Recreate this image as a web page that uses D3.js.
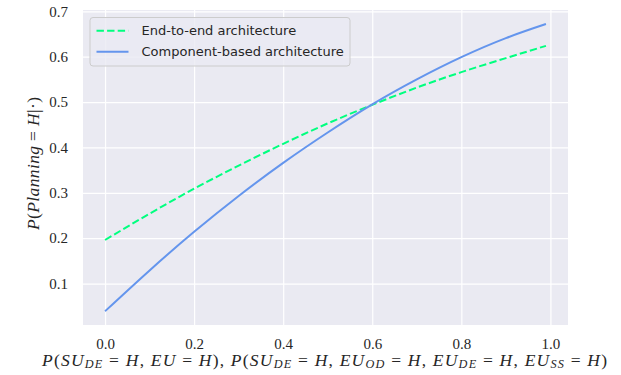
<!DOCTYPE html>
<html><head><meta charset="utf-8">
<script src="https://cdn.jsdelivr.net/npm/d3@7"></script>
<style>body{margin:0;background:#fff;}svg{display:block;}</style>
</head><body>
<svg id="c" width="621" height="375"></svg>
<script>
const xValues = [0.0, 0.1, 0.2, 0.3, 0.4, 0.5, 0.6, 0.7, 0.8, 0.9, 0.99];
const endToEnd = [0.196, 0.254, 0.309, 0.360, 0.408, 0.453, 0.494, 0.532, 0.566, 0.597, 0.624];
const componentBased = [0.039, 0.129, 0.214, 0.293, 0.366, 0.433, 0.495, 0.550, 0.599, 0.641, 0.672];
const seriesNames = ["End-to-end architecture", "Component-based architecture"];
const xTicks = [0.0, 0.2, 0.4, 0.6, 0.8, 1.0];
const yTicks = [0.1, 0.2, 0.3, 0.4, 0.5, 0.6, 0.7];

const svg = d3.select("#c");
const L = 83, R = 568, T = 10, B = 325;
const x = d3.scaleLinear().domain([-0.0495, 1.0395]).range([L, R]);
const y = d3.scaleLinear().domain([0.0086, 0.703]).range([B, T]);

svg.append("rect").attr("x", L).attr("y", T).attr("width", R - L).attr("height", B - T).attr("fill", "#EAEAF2");

const gx = svg.append("g").attr("transform", `translate(0,${B})`)
  .call(d3.axisBottom(x).tickValues(xTicks).tickFormat(d3.format(".1f")).tickSize(-(B - T)).tickPadding(13));
const gy = svg.append("g").attr("transform", `translate(${L},0)`)
  .call(d3.axisLeft(y).tickValues(yTicks).tickFormat(d3.format(".1f")).tickSize(-(R - L)).tickPadding(15));
[gx, gy].forEach(g => {
  g.select(".domain").remove();
  g.selectAll(".tick line").attr("stroke", "#fff").attr("stroke-width", 1.2);
  g.selectAll(".tick text").attr("fill", "#262626").attr("font-family", "Liberation Serif, serif").attr("font-size", 15);
});

const line = d3.line().x((d, i) => x(xValues[i])).y(d => y(d)).curve(d3.curveNatural);
svg.append("path").datum(endToEnd).attr("d", line).attr("fill", "none")
  .attr("stroke", "#00FF7F").attr("stroke-width", 2).attr("stroke-dasharray", "7.4,3.2");
svg.append("path").datum(componentBased).attr("d", line).attr("fill", "none")
  .attr("stroke", "#6495ED").attr("stroke-width", 2);

// legend
const lg = svg.append("g");
lg.append("rect").attr("x", 90).attr("y", 17.5).attr("width", 260).attr("height", 48.5).attr("rx", 3)
  .attr("fill", "#EAEAF2").attr("fill-opacity", 0.8).attr("stroke", "#cccccc").attr("stroke-width", 1);
const legendItems = [{name: seriesNames[0], color: "#00FF7F", dash: "7.4,3.2"}, {name: seriesNames[1], color: "#6495ED", dash: null}];
legendItems.forEach((it, i) => {
  const yy = 30.7 + i * 21;
  lg.append("line").attr("x1", 96.5).attr("x2", 128.5).attr("y1", yy).attr("y2", yy)
    .attr("stroke", it.color).attr("stroke-width", 2).attr("stroke-dasharray", it.dash);
  lg.append("text").attr("x", 141.5).attr("y", yy + 4.5).text(it.name)
    .attr("font-family", "DejaVu Sans, sans-serif").attr("font-size", 13).attr("fill", "#262626");
});

function mathText(parent, segs, fs) {
  const t = parent.append("text").attr("font-family", "Liberation Serif, serif").attr("font-size", fs).attr("fill", "#262626");
  segs.forEach(([s, k]) => {
    const sp = t.append("tspan").text(s);
    if (k === "i") sp.attr("font-style", "italic");
    if (k === "s") sp.attr("font-style", "italic").attr("font-size", fs * 0.7).attr("baseline-shift", "-20%");
  });
  return t;
}
const xl = [["P", "i"], ["(", "n"], ["SU", "i"], ["DE", "s"], [" = ", "n"], ["H", "i"], [", ", "n"], ["EU", "i"], [" = ", "n"], ["H", "i"], ["), ", "n"],
  ["P", "i"], ["(", "n"], ["SU", "i"], ["DE", "s"], [" = ", "n"], ["H", "i"], [", ", "n"], ["EU", "i"], ["OD", "s"], [" = ", "n"], ["H", "i"], [", ", "n"],
  ["EU", "i"], ["DE", "s"], [" = ", "n"], ["H", "i"], [", ", "n"], ["EU", "i"], ["SS", "s"], [" = ", "n"], ["H", "i"], [")", "n"]];
mathText(svg, xl, 17.5).attr("x", 42).attr("y", 366).attr("textLength", 565).attr("lengthAdjust", "spacing");
const yl = [["P", "i"], ["(", "n"], ["Planning", "i"], [" = ", "n"], ["H", "i"], ["|·)", "n"]];
mathText(svg, yl, 17.5).attr("textLength", 133).attr("lengthAdjust", "spacing").attr("transform", "translate(39,230) rotate(-90)");
</script>
</body></html>
